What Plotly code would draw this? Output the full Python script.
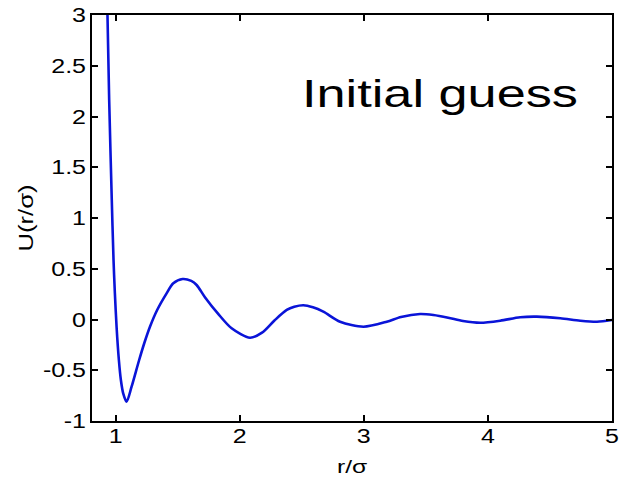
import plotly.graph_objects as go

# Trial pair potential U(r/sigma), sampled along the curve
r_sigma = [0.9347, 0.9484, 0.9694, 0.9835, 0.9944, 1.008, 1.0266, 1.0427, 1.0613, 1.0887,
           1.129, 1.190, 1.231, 1.277, 1.335, 1.411, 1.465, 1.540, 1.610, 1.653,
           1.720, 1.827, 1.935, 2.083, 2.180, 2.280, 2.379, 2.440, 2.513, 2.590,
           2.674, 2.809, 2.997, 3.185, 3.300, 3.454, 3.561, 3.680, 3.800, 3.938,
           4.099, 4.260, 4.395, 4.583, 4.744, 4.879, 5.0]
u_vals = [3.0, 2.163, 1.177, 0.586, 0.258, -0.071, -0.399, -0.596, -0.727, -0.810,
          -0.662, -0.399, -0.234, -0.071, 0.094, 0.258, 0.357, 0.399, 0.380, 0.340,
          0.220, 0.055, -0.087, -0.180, -0.130, -0.010, 0.094, 0.125, 0.140, 0.120,
          0.077, -0.022, -0.071, -0.022, 0.025, 0.054, 0.044, 0.018, -0.015, -0.032,
          -0.012, 0.022, 0.028, 0.012, -0.012, -0.022, -0.005]

x_ticks = [1, 2, 3, 4, 5]
y_ticks = [-1, -0.5, 0, 0.5, 1, 1.5, 2, 2.5, 3]
y_tick_text = ["-1", "-0.5", "0", "0.5", "1", "1.5", "2", "2.5", "3"]

FONT = "Liberation Sans, Arial, Helvetica, sans-serif"

fig = go.Figure()
fig.add_trace(go.Scatter(
    x=r_sigma, y=u_vals, mode="lines",
    line=dict(color="#0a14d8", width=2.6, shape="spline", smoothing=0.8),
    showlegend=False, hoverinfo="skip", cliponaxis=True,
))

axis_common = dict(
    showline=True, linecolor="black", linewidth=2, mirror="ticks",
    ticks="inside", ticklen=6, tickwidth=1.6, tickcolor="black",
    showgrid=False, zeroline=False, automargin=False,
    tickfont=dict(family=FONT, size=20, color="black"),
)

fig.update_xaxes(
    range=[0.81, 5.0], tickvals=x_ticks, ticktext=[str(v) for v in x_ticks],
    ticklabelstandoff=-4,
    title=dict(text="r/σ", font=dict(family=FONT, size=19, color="black"), standoff=14),
    **axis_common,
)
fig.update_yaxes(
    range=[-1, 3], tickvals=y_ticks, ticktext=y_tick_text,
    title=dict(text="U(r/σ)", font=dict(family=FONT, size=20, color="black"), standoff=13),
    **axis_common,
)

fig.add_annotation(
    x=(300 - 92) / (612 - 92), y=1 - (93 - 15) / (421 - 15),
    xref="paper", yref="paper", text="Initial guess",
    showarrow=False, font=dict(family=FONT, size=39, color="black"),
    xanchor="left", yanchor="middle",
)

fig.update_layout(
    width=619, height=478,
    margin=dict(l=92, r=7, t=15, b=57),
    paper_bgcolor="white", plot_bgcolor="white",
)

# Widen the glyphs horizontally (the figure's lettering is set wide),
# keeping each label anchored where Plotly placed it.
widen_text = """
var gd = document.getElementById('{plot_id}');
function widen(sel, k, keepLeft) {
  gd.querySelectorAll(sel).forEach(function (t) {
    var bb = t.getBBox();
    var anchor = t.getAttribute('text-anchor') || 'start';
    var w = bb.width * k;
    var left = bb.x;
    if (!keepLeft) {
      if (anchor === 'middle') { left = bb.x + bb.width / 2 - w / 2; }
      else if (anchor === 'end') { left = bb.x + bb.width - w; }
    }
    t.setAttribute('text-anchor', 'start');
    t.setAttribute('x', left);
    t.setAttribute('textLength', w);
    t.setAttribute('lengthAdjust', 'spacingAndGlyphs');
  });
}
widen('.xtick text', 1.25, false);
widen('.ytick text', 1.25, false);
widen('.xtitle', 1.28, false);
widen('.ytitle', 1.28, false);
widen('.annotation-text', 1.34, true);
"""

fig.write_html("out.html", post_script=widen_text)
